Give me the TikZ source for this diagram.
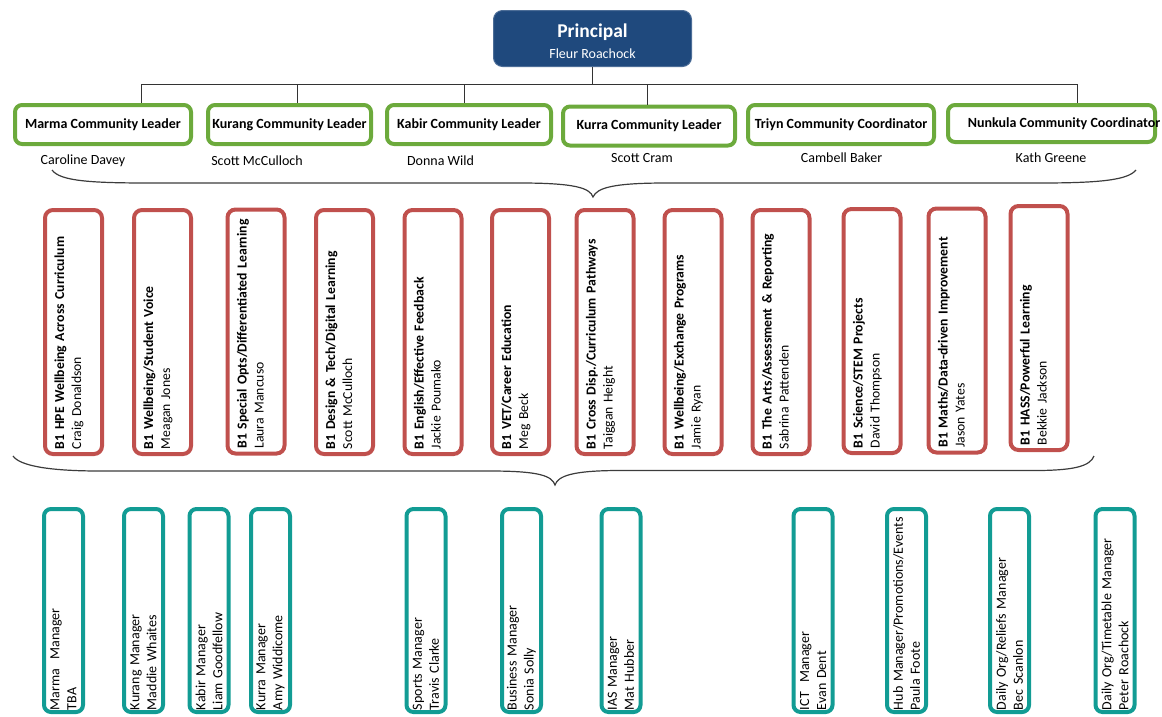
\documentclass[tikz,border=0pt]{standalone}
\usepackage{fontspec}
\setmainfont{Carlito}
\usetikzlibrary{positioning}
\definecolor{prblue}{RGB}{31,73,125}
\definecolor{leadgreen}{RGB}{108,170,60}
\definecolor{b1red}{RGB}{192,80,77}
\definecolor{mgrteal}{RGB}{18,156,148}
\definecolor{brgray}{RGB}{60,60,60}

\begin{document}
\begin{tikzpicture}[x=1pt,y=-1pt,
	principal/.style={draw=prblue!80!white, line width=1pt, fill=prblue, text=white,
		rounded corners=9pt, minimum width=198pt, minimum height=56pt, align=center,
		font=\fontsize{14}{21}\selectfont},
	leader/.style={draw=leadgreen, line width=4pt, fill=white, rounded corners=7pt,
		minimum height=39pt, inner sep=0pt, font=\fontsize{14}{17}\selectfont\bfseries},
	lname/.style={font=\fontsize{14}{17}\selectfont},
	b1box/.style={draw=b1red, line width=4pt, fill=white, rounded corners=8pt, rotate=90,
		minimum height=57pt, text width=234pt, inner xsep=5pt, align=left,
		text height=10pt, text depth=29pt, font=\fontsize{13.7}{17}\selectfont},
	mgrbox/.style={draw=mgrteal, line width=4pt, fill=white, rounded corners=7pt, rotate=90,
		minimum height=39pt, text width=199pt, inner xsep=2pt, inner ysep=2pt, align=left,
		font=\fontsize{14}{17}\selectfont},
	conn/.style={draw=black!80, line width=1pt},
	curlybr/.style={draw=brgray, line width=1.2pt}]
	\useasboundingbox (0,0) rectangle (1162,716);

	\node[principal] (principal) at (592.5,38.5)
		{{\fontsize{19.5}{21}\selectfont\bfseries\rule{0pt}{19.5pt}Principal}\\Fleur Roachock};

	\node[leader, minimum width=176pt] (marma) at (103,124.5) {Marma Community Leader};
	\node[leader, minimum width=163pt] (kurang) at (289.5,124.5) {Kurang Community Leader};
	\node[leader, minimum width=164pt] (kabir) at (469,124.5) {Kabir Community Leader};
	\node[leader, minimum width=172pt] (kurra) at (649,126) {Kurra Community Leader};
	\node[leader, minimum width=186pt] (triyn) at (841,124.5) {Triyn Community Coordinator};
	\node[leader, minimum width=207pt, minimum height=37pt] (nunkula) at (1051.5,123.5)
		{\makebox[0pt]{\hspace{25pt}Nunkula Community Coordinator}};

	\coordinate (bus) at (592.5,84);
	\draw[conn] (principal.south) -- (bus);
	\draw[conn] (bus) -| ([xshift=38pt]marma.north);
	\draw[conn] (bus) -| ([xshift=7.5pt]kurang.north);
	\draw[conn] (bus) -| ([xshift=-5pt]kabir.north);
	\draw[conn] (bus) -| ([xshift=-2pt]kurra.north);
	\draw[conn] (bus) -| ([xshift=25.5pt]nunkula.north);

	\node[lname] (davey) at (83,161) {Caroline Davey};
	\node[lname] (mcculloch) at (257,161) {Scott McCulloch};
	\node[lname] (wild) at (440.5,161) {Donna Wild};
	\node[lname] (cram) at (642,158) {Scott Cram};
	\node[lname] (baker) at (841.5,158) {Cambell Baker};
	\node[lname] (greene) at (1051,158) {Kath Greene};

	\draw[curlybr] (52,170) .. controls (60,181) and (90,183) .. (150,183) -- (520,183)
		.. controls (575,183) and (590,188) .. (593,197)
		.. controls (597,188) and (612,183) .. (666,183) -- (1040,183)
		.. controls (1100,183) and (1128,180) .. (1136,170);

	\foreach \px/\py/\nm/\ttl/\who in {
		73.5/332/hpe/{B1 HPE Wellbeing Across Curriculum}/{Craig Donaldson},
		162.5/332/voice/{B1 Wellbeing/Student Voice}/{Meagan Jones},
		256/331.5/spec/{B1 Special Opts/Differentiated Learning}/{Laura Mancuso},
		344.5/332/tech/{B1 Design \& Tech/Digital Learning}/{Scott McCulloch},
		433/332/eng/{B1 English/Effective Feedback}/{Jackie Poumako},
		520.5/332/vet/{B1 VET/Career Education}/{Meg Beck},
		605/332/cross/{B1 Cross Disp./Curriculum Pathways}/{Taiggan Height},
		693/332/exch/{B1 Wellbeing/Exchange Programs}/{Jamie Ryan},
		781/332/arts/{B1 The Arts/Assessment \& Reporting}/{Sabrina Pattenden},
		872/331/stem/{B1 Science/STEM Projects}/{David Thompson},
		957/330.5/maths/{B1 Maths/Data-driven Improvement}/{Jason Yates},
		1039/328/hass/{B1 HASS/Powerful Learning}/{Bekkie Jackson}}
		\node[b1box] (b1-\nm) at (\px,\py) {\hyphenpenalty=10000\textbf{\ttl}\\\who};

	\draw[curlybr] (13,456) .. controls (20,466) and (50,471) .. (100,471) -- (490,471)
		.. controls (540,471) and (552,476) .. (555,485)
		.. controls (558,476) and (572,470.5) .. (620,470.5) -- (1040,470.5)
		.. controls (1075,470) and (1090,466) .. (1094,456);

	\foreach \px/\nm/\ttl/\who in {
		63.5/marma/{Marma\ \ Manager}/TBA,
		143.5/kurang/{Kurang Manager}/{Maddie Whaites},
		209/kabir/{Kabir Manager}/{Liam Goodfellow},
		270.5/kurra/{Kurra Manager}/{Amy Widdicome},
		426/sports/{Sports Manager}/{Travis Clarke},
		521.5/business/{Business Manager}/{Sonia Solly},
		621/ias/{IAS Manager}/{Mat Hubber},
		813/ict/{ICT\ \ Manager}/{Evan Dent},
		906.5/hub/{Hub Manager/Promotions/Events}/{Paula Foote},
		1009.5/reliefs/{Daily Org/Reliefs Manager}/{Bec Scanlon},
		1115/timetable/{Daily Org/Timetable Manager}/{Peter Roachock}}
		\node[mgrbox] (mgr-\nm) at (\px,610.5) {\ttl\\\who};
\end{tikzpicture}
\end{document}
